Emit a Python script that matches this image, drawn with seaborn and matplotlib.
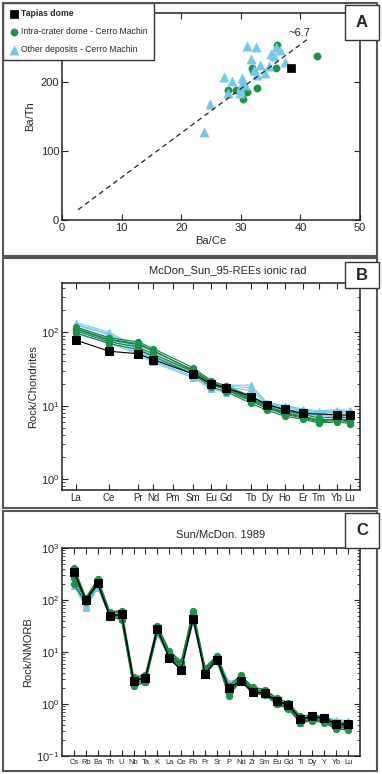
import numpy as np
import pandas as pd
import matplotlib
matplotlib.use('Agg')
import matplotlib.pyplot as plt
from matplotlib.patches import Rectangle
from matplotlib.ticker import LogLocator, LogFormatterMathtext, NullFormatter
import seaborn as sns

####### Data #######
# Panel A - Ba/Ce vs Ba/Th
tapias_bace = [38.4]
tapias_bath = [221]
intra_bace = [42.8, 36.1, 35.9, 31.9, 32.1, 32.8, 31.0, 29.2, 27.9, 30.3]
intra_bath = [238, 254, 220, 220, 216, 191, 186, 189, 188, 175]
other_bace = [31.0, 32.6, 35.9, 36.6, 35.0, 35.6, 31.7, 37.4, 33.2, 34.8, 32.2, 34.1,
              32.7, 27.2, 28.5, 30.2, 30.4, 30.7, 29.9, 27.9, 29.9, 24.9, 23.8]
other_bath = [252, 250, 251, 247, 241, 237, 233, 229, 225, 223, 217, 213,
              210, 207, 201, 206, 200, 196, 191, 184, 184, 168, 127]
trend_x = [2.7, 41.5]
trend_y = [15, 264]

# Panel B - REE normalised to chondrite (McDonough & Sun 1995)
ree = ['La', 'Ce', 'Pr', 'Nd', 'Pm', 'Sm', 'Eu', 'Gd', 'Tb', 'Dy', 'Ho', 'Er', 'Tm', 'Yb', 'Lu']
ree_pos = [4.7, 15.8, 25.5, 30.5, 37.2, 43.9, 50.0, 55.0, 63.4, 68.8, 74.8, 80.9, 86.2, 92.3, 96.6]
nan = np.nan
ree_tapias = {
    'T1': [78, 55, 51, 42.5, nan, 27, 19.8, 17.5, 13.3, 10.3, 8.9, 7.85, nan, 7.5, 7.4],
}
ree_intra = {
    'G1': [118, 84, 74, 60, nan, 33, 22, 18.5, 13.5, 10.5, 8.5, 7.6, 6.8, 7.0, 6.8],
    'G2': [110, 78, 68, 55, nan, 31, 21, 17.5, 12.5, 10.0, 8.0, 7.2, 6.4, 6.6, 6.4],
    'G3': [104, 74, 63, 51, nan, 29, 19.5, 16.5, 11.5, 9.2, 7.6, 6.8, 6.0, 6.3, 6.0],
    'G4': [98, 70, 58, 47, nan, 27, 18, 15.5, 10.8, 8.6, 7.2, 6.5, 5.8, 6.0, 5.7],
    'G5': [112, 80, 70, 57, nan, 30, 20.5, 17.0, 12.0, 9.6, 7.8, 7.0, 6.2, 6.5, 6.2],
}
ree_other = {
    'B1': [135, 100, 62, 50, nan, 30, 21, 19, 19, 11, 10, 9, 8.5, 8.8, 8.6],
    'B2': [125, 92, 58, 46, nan, 28, 19.5, 18, 16, 10.5, 9.5, 8.5, 8, 8.2, 8.0],
    'B3': [115, 85, 55, 44, nan, 27, 18.5, 17, 14, 10, 9, 8.2, 7.8, 8.0, 7.8],
    'B4': [105, 78, 52, 41, nan, 25, 17.5, 16, 13, 9.5, 8.5, 7.8, 7.4, 7.5, 7.3],
    'B5': [128, 95, 60, 48, nan, 29, 20, 18.5, 17.5, 10.8, 9.8, 8.8, 8.2, 8.5, 8.3],
    'B6': [95, 72, 50, 39, nan, 24, 17, 15, 12, 9.0, 8.2, 7.6, 7.2, 7.2, 7.0],
}

# Panel C - spider diagram normalised to NMORB (Sun & McDonough 1989)
spider = ['Cs', 'Rb', 'Ba', 'Th', 'U', 'Nb', 'Ta', 'K', 'La', 'Ce', 'Pb', 'Pr',
          'Sr', 'P', 'Nd', 'Zr', 'Sm', 'Eu', 'Gd', 'Ti', 'Dy', 'Y', 'Yb', 'Lu']
sp_tapias = {
    'T1': [350, 100, 210, 49, 53, 2.8, 3.2, 28, 7.5, 4.5, 44, 3.8, 7.0, 2.0, 2.75, 1.7,
           1.6, 1.15, 0.95, 0.52, 0.58, 0.53, 0.41, 0.41],
}
sp_intra = {
    'G1': [420, 110, 250, 60, 62, 3.3, 3.6, 32, 10.5, 6.5, 62, 5.0, 8.5, 2.2, 3.6, 2.1,
           1.9, 1.3, 1.05, 0.58, 0.62, 0.56, 0.44, 0.42],
    'G2': [380, 105, 235, 56, 58, 3.0, 3.3, 30, 9.5, 6.0, 56, 4.6, 8.0, 1.9, 3.3, 1.9,
           1.75, 1.2, 0.95, 0.52, 0.56, 0.51, 0.40, 0.38],
    'G3': [300, 95, 220, 52, 45, 2.5, 2.9, 26, 8.5, 5.4, 48, 4.2, 7.3, 1.6, 3.0, 1.75,
           1.6, 1.1, 0.85, 0.47, 0.51, 0.47, 0.36, 0.34],
    'G4': [200, 90, 200, 48, 42, 2.2, 2.6, 24, 8.0, 5.0, 42, 4.0, 6.8, 1.45, 2.8, 1.6,
           1.5, 1.0, 0.80, 0.44, 0.48, 0.44, 0.33, 0.32],
    'G5': [260, 100, 225, 54, 50, 2.7, 3.1, 28, 9.0, 5.7, 52, 4.4, 7.6, 1.75, 3.1, 1.8,
           1.65, 1.15, 0.9, 0.5, 0.54, 0.49, 0.38, 0.36],
}
sp_other = {
    'B1': [280, 70, 170, 52, 48, 2.4, 3.0, 22, 8.0, 5.2, 40, 4.2, 7.2, 2.5, 2.9, 1.8,
           1.6, 1.05, 0.85, 0.45, 0.52, 0.5, 0.46, 0.45],
    'B2': [230, 75, 190, 50, 46, 2.6, 2.9, 25, 8.5, 5.5, 45, 4.4, 7.8, 2.7, 3.0, 1.9,
           1.7, 1.1, 0.9, 0.48, 0.56, 0.53, 0.48, 0.47],
    'B3': [320, 85, 200, 55, 52, 2.9, 3.3, 27, 9.2, 5.8, 50, 4.8, 8.4, 2.3, 3.2, 2.0,
           1.8, 1.2, 0.95, 0.5, 0.6, 0.55, 0.5, 0.48],
    'B4': [190, 72, 180, 47, 44, 2.3, 2.7, 24, 7.8, 5.0, 38, 4.0, 7.0, 2.1, 2.8, 1.7,
           1.55, 1.0, 0.82, 0.43, 0.5, 0.48, 0.45, 0.44],
}

####### Style #######
sns.set_style('ticks')
plt.rcParams['font.family'] = ['Liberation Sans', 'DejaVu Sans']
plt.rcParams['font.size'] = 8
plt.rcParams['mathtext.fontset'] = 'custom'
plt.rcParams['mathtext.rm'] = 'Liberation Sans'

c_green = '#17964a'
c_green_line = '#11803c'
c_blue = '#74c8ec'
c_black = '#000000'

W, H = 382, 774
fig = plt.figure(figsize=(W / 100, H / 100), dpi=100)

def fx(px):
    return px / W

def fy(py):
    return 1 - py / H

def make_ax(top, bottom):
    return fig.add_axes([fx(62), fy(bottom), fx(360) - fx(62), fy(top) - fy(bottom)])

def style_ax(ax, xlabelsize=8):
    ax.tick_params(direction='in', top=True, right=True, length=4, width=0.8,
                   labelsize=8, pad=2)
    ax.tick_params(axis='x', labelsize=xlabelsize)
    ax.tick_params(which='minor', direction='in', top=False, right=True, length=2.5, width=0.6)
    for s in ax.spines.values():
        s.set_linewidth(1.1)
        s.set_color('#222222')

def panel_frame(top, bottom):
    fig.patches.append(Rectangle((fx(3), fy(bottom)), fx(377) - fx(3), fy(top) - fy(bottom),
                                 transform=fig.transFigure, fill=False,
                                 edgecolor='#555555', lw=1.5))

def panel_label(txt, top, bottom):
    fig.patches.append(Rectangle((fx(345), fy(bottom)), fx(379) - fx(345), fy(top) - fy(bottom),
                                 transform=fig.transFigure, facecolor='white',
                                 edgecolor='#333333', lw=1.0, zorder=5))
    fig.text(fx(362), fy((top + bottom) / 2), txt, ha='center', va='center',
             fontsize=12, fontweight='bold', zorder=6)

def long_df(d, pos):
    rows = []
    for name, vals in d.items():
        for p, v in zip(pos, vals):
            if not np.isnan(v):
                rows.append({'sample': name, 'pos': p, 'value': v})
    return pd.DataFrame(rows)

panel_frame(3, 256)
panel_frame(258, 508)
panel_frame(511, 771)

######################## Panel A ########################
axA = make_ax(13, 220)
axA.plot(trend_x, trend_y, ls=(0, (4, 3)), color='#222222', lw=0.9)
sns.scatterplot(x=intra_bace, y=intra_bath, ax=axA, color=c_green, marker='o', s=28,
                edgecolor=c_green, linewidth=0.3, label='Intra-crater dome - Cerro Machin')
sns.scatterplot(x=other_bace, y=other_bath, ax=axA, color=c_blue, marker='^', s=45,
                edgecolor=c_blue, linewidth=0.3, label='Other deposits - Cerro Machin')
sns.scatterplot(x=tapias_bace, y=tapias_bath, ax=axA, color=c_black, marker='s', s=40,
                edgecolor=c_black, label='Tapias dome')
axA.set_xlim(0, 50)
axA.set_ylim(0, 300)
axA.set_xticks([0, 10, 20, 30, 40, 50])
axA.set_yticks([0, 100, 200, 300])
axA.set_yticklabels(['0', '100', '200', ''])
axA.set_xlabel('Ba/Ce', fontsize=8, labelpad=2)
axA.set_ylabel('Ba/Th', fontsize=8, labelpad=4)
axA.text(39.8, 271, '~6.7', ha='center', va='center', fontsize=8)
style_ax(axA)
h, l = axA.get_legend_handles_labels()
order = [2, 0, 1]
leg = axA.legend([h[i] for i in order], [l[i] for i in order],
                 loc='upper left', bbox_to_anchor=(fx(3), fy(3)),
                 bbox_transform=fig.transFigure, fontsize=6.2, frameon=True,
                 fancybox=False, framealpha=1, edgecolor='#333333',
                 borderpad=0.7, labelspacing=1.05, handletextpad=0.2,
                 handlelength=1.2, borderaxespad=0)
leg.get_frame().set_linewidth(1.0)
leg.get_texts()[0].set_fontweight('bold')
leg.set_zorder(10)
panel_label('A', 5, 40)

######################## Panel B ########################
axB = make_ax(283, 490)
for d, col, lcol, mk, ms in [(ree_other, c_blue, c_blue, '^', 5),
                             (ree_intra, c_green, c_green_line, 'o', 4.5),
                             (ree_tapias, c_black, c_black, 's', 6)]:
    df = long_df(d, ree_pos)
    sns.lineplot(data=df, x='pos', y='value', units='sample', estimator=None, ax=axB,
                 color=lcol, lw=0.8, marker=mk, markersize=ms, markerfacecolor=col,
                 markeredgecolor=col, legend=False)
axB.set_yscale('log')
axB.set_xlim(0, 100)
axB.set_ylim(0.71, 468)
axB.set_xticks(ree_pos)
axB.set_xticklabels(ree)
axB.yaxis.set_major_locator(LogLocator(base=10, numticks=10))
axB.yaxis.set_major_formatter(LogFormatterMathtext())
axB.yaxis.set_minor_locator(LogLocator(base=10, subs=np.arange(2, 10), numticks=20))
axB.yaxis.set_minor_formatter(NullFormatter())
axB.set_xlabel('')
axB.set_ylabel('Rock/Chondrites', fontsize=8, labelpad=2)
style_ax(axB, xlabelsize=7)
fig.text(fx(228), fy(270), 'McDon_Sun_95-REEs ionic rad', ha='center', va='center', fontsize=8)
panel_label('B', 262, 288)

######################## Panel C ########################
axC = make_ax(548, 756)
sp_pos = list(range(len(spider)))
for d, col, lcol, mk, ms in [(sp_other, c_blue, c_blue, '^', 5),
                             (sp_intra, c_green, c_green_line, 'o', 4.5),
                             (sp_tapias, c_black, c_black, 's', 6)]:
    df = long_df(d, sp_pos)
    sns.lineplot(data=df, x='pos', y='value', units='sample', estimator=None, ax=axC,
                 color=lcol, lw=1.0, marker=mk, markersize=ms, markerfacecolor=col,
                 markeredgecolor=col, legend=False)
axC.set_yscale('log')
axC.set_xlim(-1, 24)
axC.set_ylim(0.1, 1000)
axC.set_xticks(sp_pos)
axC.set_xticklabels(spider)
axC.yaxis.set_major_locator(LogLocator(base=10, numticks=10))
axC.yaxis.set_major_formatter(LogFormatterMathtext())
axC.yaxis.set_minor_locator(LogLocator(base=10, subs=np.arange(2, 10), numticks=20))
axC.yaxis.set_minor_formatter(NullFormatter())
axC.set_xlabel('')
axC.set_ylabel('Rock/NMORB', fontsize=8, labelpad=2)
style_ax(axC, xlabelsize=5.4)
fig.text(fx(221), fy(535), 'Sun/McDon. 1989', ha='center', va='center', fontsize=8)
panel_label('C', 513, 548)

fig.savefig('out.png', dpi=100)
